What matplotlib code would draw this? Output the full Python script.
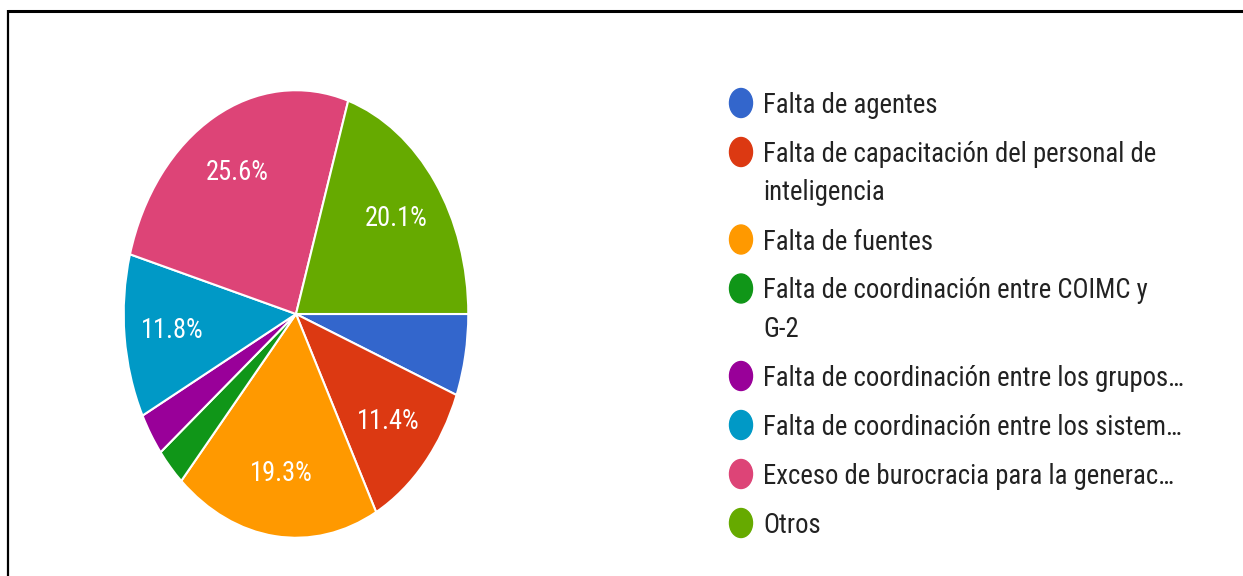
import matplotlib.pyplot as plt
from matplotlib import font_manager
from matplotlib.patches import Ellipse

# Survey answers (percent of responses), in drawing order (clockwise from 3 o'clock).
labels = ['Falta de agentes',
          'Falta de capacitación del personal de\ninteligencia',
          'Falta de fuentes',
          'Falta de coordinación entre COIMC y\nG-2',
          'Falta de coordinación entre los grupos…',
          'Falta de coordinación entre los sistem…',
          'Exceso de burocracia para la generac…',
          'Otros']
shares = [5.9, 11.4, 19.3, 2.8, 3.1, 11.8, 25.6, 20.1]
colors = ['#3366cc', '#dc3912', '#ff9900', '#109618',
          '#990099', '#0099c6', '#dd4477', '#66aa00']

# The screenshot is squeezed horizontally, so use a narrow sans font.
names = {f.name for f in font_manager.fontManager.ttflist}
prefs = ['Liberation Sans Narrow', 'Arial Narrow', 'Roboto Condensed',
         'PT Sans Narrow', 'Archivo Narrow', 'Liberation Sans']
fam = next(n for n in prefs if n in names)
plt.rcParams['font.family'] = [fam, 'DejaVu Sans']

W, H = 1243, 576
fig = plt.figure(figsize=(W / 100, H / 100), dpi=100)
fig.patch.set_facecolor('white')
renderer = fig.canvas.get_renderer()


def fit_size(s, target_px, base=20):
    t = fig.text(0, 0, s, fontsize=base)
    w = t.get_window_extent(renderer).width
    t.remove()
    return base * target_px / w


leg_size = min(21, fit_size('Falta de coordinación entre los grupos…', 420))
pct_size = min(21, fit_size('19.3%', 63))

# Pie: center (296, 314) px, radii 174 x 226 px (stretched ellipse).
cx, cy, rx, ry = 296, 314, 174, 226
ax = fig.add_axes([(cx - rx) / W, (H - cy - ry) / H, 2 * rx / W, 2 * ry / H])
wedges, texts, autotexts = ax.pie(
    shares, colors=colors, startangle=0, counterclock=False, radius=1,
    autopct=lambda p: f'{p:.1f}%' if p >= 10 else '', pctdistance=0.72,
    wedgeprops=dict(edgecolor='white', linewidth=1.5),
    textprops=dict(color='white', fontsize=pct_size))
ax.set_aspect('auto')
ax.set_xlim(-1.01, 1.01)
ax.set_ylim(-1.01, 1.01)
ax.axis('off')

# Overlay in pixel coordinates for legend and frame.
ov = fig.add_axes([0, 0, 1, 1])
ov.set_xlim(0, W)
ov.set_ylim(H, 0)
ov.axis('off')
ov.patch.set_alpha(0)

baseline = 113
for lab, col in zip(labels, colors):
    lines = lab.split('\n')
    ov.add_patch(Ellipse((741, baseline - 10), 23, 29, color=col))
    for k, line in enumerate(lines):
        ov.text(763, baseline + k * 38.5, line, fontsize=leg_size, color='#222222',
                va='baseline', ha='left')
    baseline += 49 + 38.5 * (len(lines) - 1)

# Screenshot frame (top and left edges)
ov.plot([8, W], [10.5, 10.5], color='black', lw=2.2, solid_capstyle='butt')
ov.plot([8, 8], [9.5, H], color='black', lw=1.6, solid_capstyle='butt')

fig.savefig('out.png', dpi=100)
